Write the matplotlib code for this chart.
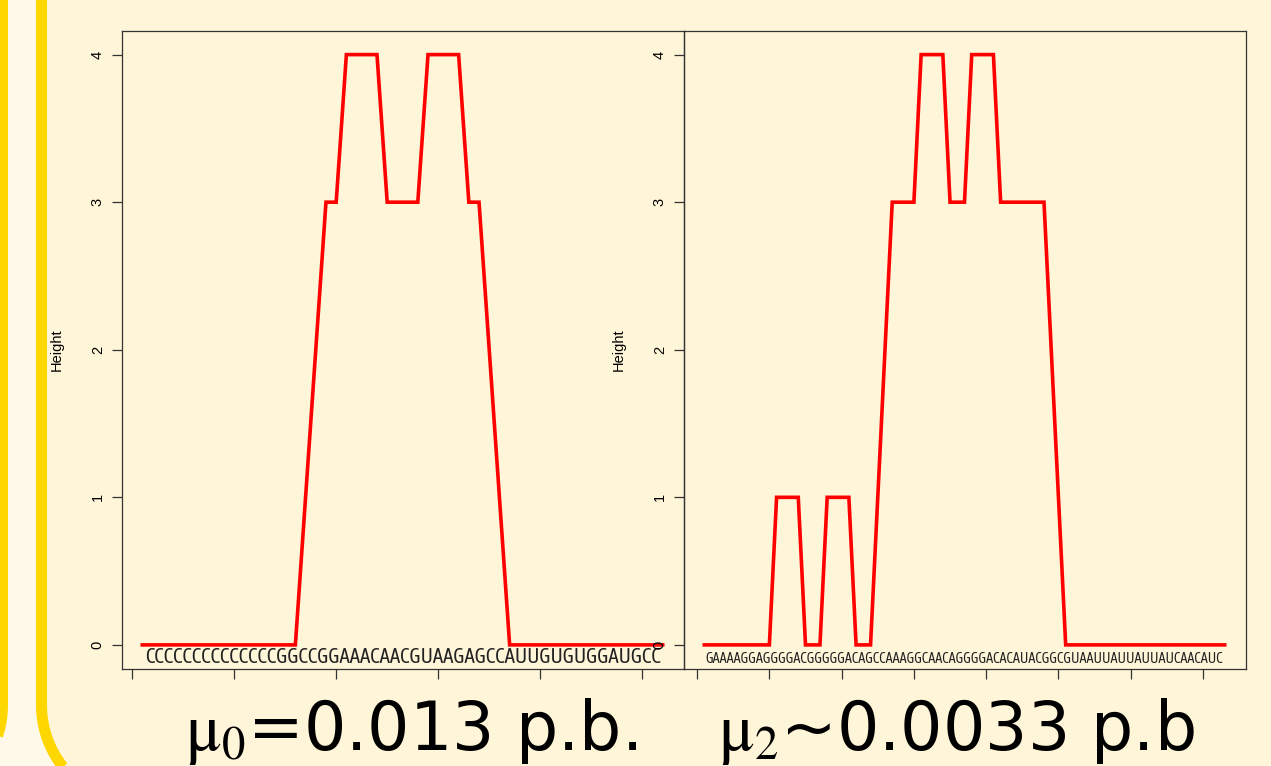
import numpy as np
import matplotlib
matplotlib.use("Agg")
import matplotlib.pyplot as plt
from matplotlib import font_manager
from matplotlib.patches import Polygon

# mountain plot data: height per nucleotide position
seq_left = "CCCCCCCCCCCCCCGGCCGGAAACAACGUAAGAGCCAUUGUGUGGAUGCC"
height_left = [0, 0, 0, 0, 0, 0, 0, 0, 0, 0, 0, 0, 0, 0, 0, 0,
               1, 2, 3, 3, 4, 4, 4, 4, 3, 3, 3, 3, 4, 4, 4, 4, 3, 3, 2, 1,
               0, 0, 0, 0, 0, 0, 0, 0, 0, 0, 0, 0, 0, 0, 0, 0]

seq_right = "GAAAAGGAGGGGACGGGGGACAGCCAAAGGCAACAGGGGACACAUACGGCGUAAUUAUUAUUAUCAACAUC"
height_right = [0, 0, 0, 0, 0, 0, 0, 0, 0, 0,
                1, 1, 1, 1, 0, 0, 0, 1, 1, 1, 1, 0, 0, 0,
                1, 2, 3, 3, 3, 3, 4, 4, 4, 4, 3, 3, 3, 4, 4, 4, 4,
                3, 3, 3, 3, 3, 3, 3, 2, 1,
                0, 0, 0, 0, 0, 0, 0, 0, 0, 0, 0, 0, 0, 0, 0, 0, 0, 0, 0, 0, 0, 0, 0]

captions = [r"$\mathrm{\mu}_{\mathrm{0}}$=0.013 p.b.", r"$\mathrm{\mu}_{\mathrm{2}}$~0.0033 p.b"]
yticks = [0, 1, 2, 3, 4]
xticks_left = [0, 10, 20, 30, 40, 50]
xticks_right = [0, 10, 20, 30, 40, 50, 60, 70]

bg = "#FFF5D8"
light = "#FFF9EA"
gold = "#FFD700"
red = "#FF0000"
dark = "#333333"

plt.rcParams["font.family"] = ["Liberation Sans", "DejaVu Sans"]
plt.rcParams["mathtext.fontset"] = "stix"

W, H = 1271, 766
fig = plt.figure(figsize=(W / 100, H / 100), dpi=100, facecolor=bg)

# slide decoration on the left edge
deco = fig.add_axes([0, 0, 1, 1], zorder=-5)
deco.set_xlim(0, W)
deco.set_ylim(H, 0)
deco.axis("off")
t = np.linspace(0, np.pi / 2, 60)
R = 100
y0 = 705
outer_x = np.concatenate([[4, 4], 4 - R + R * np.cos(t)])
outer_y = np.concatenate([[-10, y0], y0 + R * np.sin(t)])
inner_x = np.concatenate([[41.5, 41.5], 41.5 + R - R * np.cos(t)])
inner_y = np.concatenate([[-10, y0], y0 + R * np.sin(t)])
poly = np.column_stack([np.concatenate([outer_x, inner_x[::-1]]),
                        np.concatenate([outer_y, inner_y[::-1]])])
deco.add_patch(Polygon(poly, closed=True, facecolor=light, edgecolor="none"))
deco.plot(outer_x, outer_y, color=gold, lw=8 * 0.72, solid_capstyle="butt")
deco.plot(inner_x, inner_y, color=gold, lw=11 * 0.72, solid_capstyle="butt")

# narrow face for the sequence strings
narrow = None
for key in ["AsapCondensed-Regular.ttf", "DejaVuSansCondensed.ttf",
            "LiberationSansNarrow-Regular.ttf", "NotoSans-Condensed.ttf"]:
    for f in font_manager.fontManager.ttflist:
        if f.fname.endswith(key):
            narrow = f.fname
            break
    if narrow:
        break
seq_prop = font_manager.FontProperties(fname=narrow) if narrow else font_manager.FontProperties(family="DejaVu Sans")

ax_w = 562 / W
ax_h = 637.5 / H
ax_b = (H - 668.5) / H
panels = [
    (121.5 / W, seq_left, height_left, xticks_left),
    (683.5 / W, seq_right, height_right, xticks_right),
]
seq_texts = []
for left, seq, heights, xt in panels:
    ax = fig.add_axes([left, ax_b, ax_w, ax_h])
    ax.set_facecolor("none")
    n = len(heights)
    pos = np.arange(1, n + 1)
    ax.plot(pos, heights, color=red, lw=2.6, solid_joinstyle="miter")
    pad = 0.04 * (n - 1)
    ax.set_xlim(1 - pad, n + pad)
    ax.set_ylim(-0.16, 4.16)
    ax.set_xticks(xt)
    ax.set_xticklabels([])
    ax.set_yticks(yticks)
    ax.set_yticklabels([str(v) for v in yticks], rotation=90, va="center", fontsize=10.5)
    ax.tick_params(direction="out", length=7, width=0.9, color=dark, pad=5)
    for s in ax.spines.values():
        s.set_color(dark)
        s.set_linewidth(0.9)
    ax.set_ylabel("Height", fontsize=10.5)
    ax.yaxis.set_label_coords(-0.103, 0.5)
    txt = ax.text((1 + n) / 2, -0.12, seq, ha="center", va="baseline",
                  fontproperties=seq_prop, fontsize=12, color="#222222")
    seq_texts.append(txt)

# fit the sequence strings to the width seen in the slide
fig.canvas.draw()
rend = fig.canvas.get_renderer()
for txt in seq_texts:
    w = txt.get_window_extent(rend).width
    txt.set_fontsize(12 * 514 / w)

fig.text(185 / W, (H - 750) / H, captions[0], fontsize=48, family="DejaVu Sans",
         ha="left", va="baseline")
fig.text(718 / W, (H - 750) / H, captions[1], fontsize=48, family="DejaVu Sans",
         ha="left", va="baseline")

fig.savefig("out.png", dpi=100, facecolor=bg)
